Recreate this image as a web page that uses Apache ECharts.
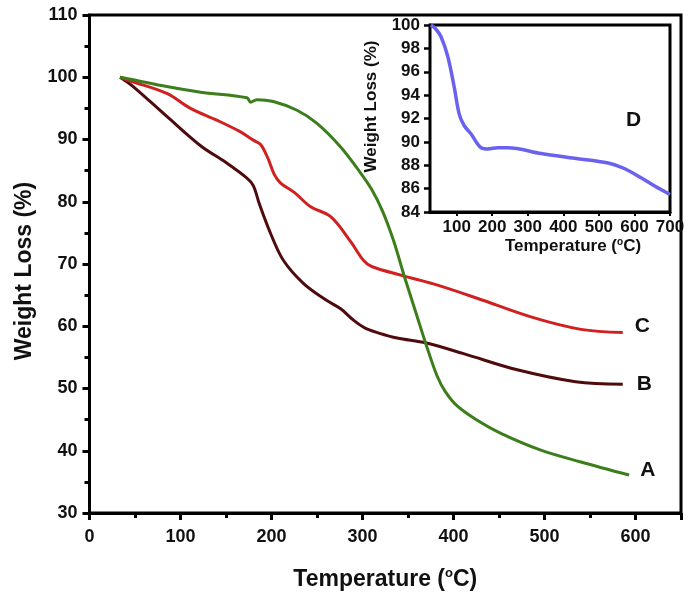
<!DOCTYPE html>
<html>
<head>
<meta charset="utf-8">
<script src="https://cdn.jsdelivr.net/npm/echarts@6/dist/echarts.min.js"></script>
<style>html,body{margin:0;padding:0;background:#fff}#c{width:688px;height:600px}</style>
</head>
<body>
<div id="c"></div>
<script>
// Main chart data (Temperature °C, Weight Loss %)
var tempA = [33.6, 48, 85, 122, 173, 177, 184, 202, 228, 250, 276, 298, 310, 322, 334, 346, 358, 370, 382, 391, 404, 426, 452, 496, 540, 593];
var lossA = [100, 99.6, 98.5, 97.6, 96.7, 96.0, 96.4, 96.1, 94.7, 92.6, 88.8, 84.6, 82.0, 78.5, 73.8, 68.0, 62.5, 57.0, 52.0, 49.5, 47.2, 44.9, 42.8, 40.1, 38.2, 36.1];
var tempB = [33.6, 48, 85, 122, 150, 173, 180, 187, 199, 213, 235, 260, 276, 290, 303, 318, 338, 370, 411, 470, 534, 586];
var lossB = [100, 98.5, 93.7, 89.0, 86.3, 83.8, 82.6, 79.5, 74.9, 70.6, 66.9, 64.2, 62.8, 61.0, 59.7, 58.9, 58.1, 57.3, 55.6, 53.0, 51.1, 50.7];
var tempC = [33.6, 45, 85, 111, 140, 165, 180, 188, 196, 203, 210, 225, 243, 265, 287, 301, 310, 345, 378, 426, 485, 540, 586];
var lossC = [100, 99.4, 97.4, 95.0, 93.1, 91.3, 89.9, 89.2, 87.0, 84.4, 83.0, 81.5, 79.2, 77.6, 73.6, 70.6, 69.6, 68.1, 66.8, 64.5, 61.5, 59.5, 59.0];
// Inset data
var tempD = [27.5, 40, 56, 75, 93, 107, 121, 140, 169, 188, 215, 244, 338, 432, 526, 573, 620, 658, 700];
var lossD = [100, 99.7, 99.0, 97.3, 94.7, 92.4, 91.4, 90.7, 89.5, 89.4, 89.5, 89.5, 89.0, 88.6, 88.2, 87.7, 86.9, 86.2, 85.5];
var insetTicks = [100, 200, 300, 400, 500, 600, 700];
var names = ['A', 'B', 'C', 'D'];

function pairs(x, y) { return x.map(function (v, i) { return [v, y[i]]; }); }

var FONT = 'Liberation Sans, Arial, sans-serif';
var chart = echarts.init(document.getElementById('c'), null, { renderer: 'canvas' });

var baseLbl = { fontFamily: FONT, fontWeight: 'bold', color: '#111' };
function endLbl(dist, dy) {
  return { show: true, formatter: '{a}', distance: dist, offset: [0, dy], fontFamily: FONT, fontWeight: 'bold', fontSize: 21, color: '#111' };
}

chart.setOption({
  animation: false,
  backgroundColor: '#fff',
  grid: [
    { left: 89.5, right: 7, top: 15, bottom: 87, show: true, borderColor: '#000', borderWidth: 3, containLabel: false },
    { left: 430, right: 18, top: 25, bottom: 388, show: true, borderColor: '#000', borderWidth: 3, backgroundColor: '#fff', z: 5 }
  ],
  xAxis: [
    {
      gridIndex: 0, type: 'value', min: 0, max: 650, interval: 100,
      splitLine: { show: false },
      axisLine: { show: true, onZero: false, lineStyle: { color: '#000', width: 3 } },
      axisTick: { show: true, length: 7, lineStyle: { color: '#000', width: 3 } },
      minorTick: { show: true, splitNumber: 2, length: 5, lineStyle: { color: '#000', width: 3 } },
      axisLabel: Object.assign({ fontSize: 18, margin: 15, showMaxLabel: false }, baseLbl),
      name: 'Temperature ({s|o}C)', nameLocation: 'middle', nameGap: 54,
      nameTextStyle: { fontFamily: FONT, fontWeight: 'bold', fontSize: 23, color: '#111',
        rich: { s: { fontFamily: FONT, fontSize: 13, fontWeight: 'bold', color: '#111', verticalAlign: 'top', padding: [0, 0, 12, 0] } } }
    },
    {
      gridIndex: 1, type: 'value', min: 25, max: 700,
      splitLine: { show: false },
      axisLine: { show: true, onZero: false, lineStyle: { color: '#000', width: 3 } },
      axisTick: { show: true, length: 4, customValues: insetTicks, lineStyle: { color: '#000', width: 2 } },
      axisLabel: Object.assign({ fontSize: 17, margin: 7, customValues: insetTicks }, baseLbl),
      name: 'Temperature ({s|o}C)', nameLocation: 'middle', nameGap: 25,
      nameTextStyle: { fontFamily: FONT, fontWeight: 'bold', fontSize: 17, color: '#111', padding: [0, 0, 0, 46],
        rich: { s: { fontFamily: FONT, fontSize: 10, fontWeight: 'bold', color: '#111', verticalAlign: 'top', padding: [0, 0, 9, 0] } } }
    }
  ],
  yAxis: [
    {
      gridIndex: 0, type: 'value', min: 30, max: 110, interval: 10,
      splitLine: { show: false },
      axisLine: { show: true, onZero: false, lineStyle: { color: '#000', width: 3 } },
      axisTick: { show: true, length: 7, lineStyle: { color: '#000', width: 3 } },
      minorTick: { show: true, splitNumber: 2, length: 5, lineStyle: { color: '#000', width: 3 } },
      axisLabel: Object.assign({ fontSize: 18, margin: 12 }, baseLbl),
      name: 'Weight Loss (%)', nameLocation: 'middle', nameGap: 50,
      nameTextStyle: { fontFamily: FONT, fontWeight: 'bold', fontSize: 23, color: '#111', padding: [0, 14, 0, 0] }
    },
    {
      gridIndex: 1, type: 'value', min: 84, max: 100, interval: 2,
      splitLine: { show: false },
      axisLine: { show: true, onZero: false, lineStyle: { color: '#000', width: 3 } },
      axisTick: { show: true, length: 6, lineStyle: { color: '#000', width: 2.5 } },
      axisLabel: Object.assign({ fontSize: 17, margin: 10 }, baseLbl),
      name: 'Weight Loss (%)', nameLocation: 'middle', nameGap: 50,
      nameTextStyle: { fontFamily: FONT, fontWeight: 'bold', fontSize: 17, color: '#111', padding: [0, 0, 0, 24] }
    }
  ],
  series: [
    { name: names[1], type: 'line', xAxisIndex: 0, yAxisIndex: 0, data: pairs(tempB, lossB), showSymbol: false, smooth: 0.35,
      lineStyle: { color: '#4e0b0d', width: 3 }, endLabel: endLbl(14, 0), z: 2 },
    { name: names[2], type: 'line', xAxisIndex: 0, yAxisIndex: 0, data: pairs(tempC, lossC), showSymbol: false, smooth: 0.35,
      lineStyle: { color: '#d0201f', width: 3 }, endLabel: endLbl(12, -6), z: 3 },
    { name: names[0], type: 'line', xAxisIndex: 0, yAxisIndex: 0, data: pairs(tempA, lossA), showSymbol: false, smooth: 0.35,
      lineStyle: { color: '#3c7d1c', width: 3 }, endLabel: endLbl(11, -5), z: 4 },
    { name: names[3], type: 'line', xAxisIndex: 1, yAxisIndex: 1, data: pairs(tempD, lossD), showSymbol: false, smooth: 0.35,
      lineStyle: { color: '#6a62ee', width: 3.5 }, z: 6 }
  ],
  graphic: [
    { type: 'text', left: 626, top: 110, z: 10,
      style: { text: names[3], fontFamily: FONT, fontWeight: 'bold', fontSize: 21, fill: '#111' } }
  ]
});
</script>
</body>
</html>
